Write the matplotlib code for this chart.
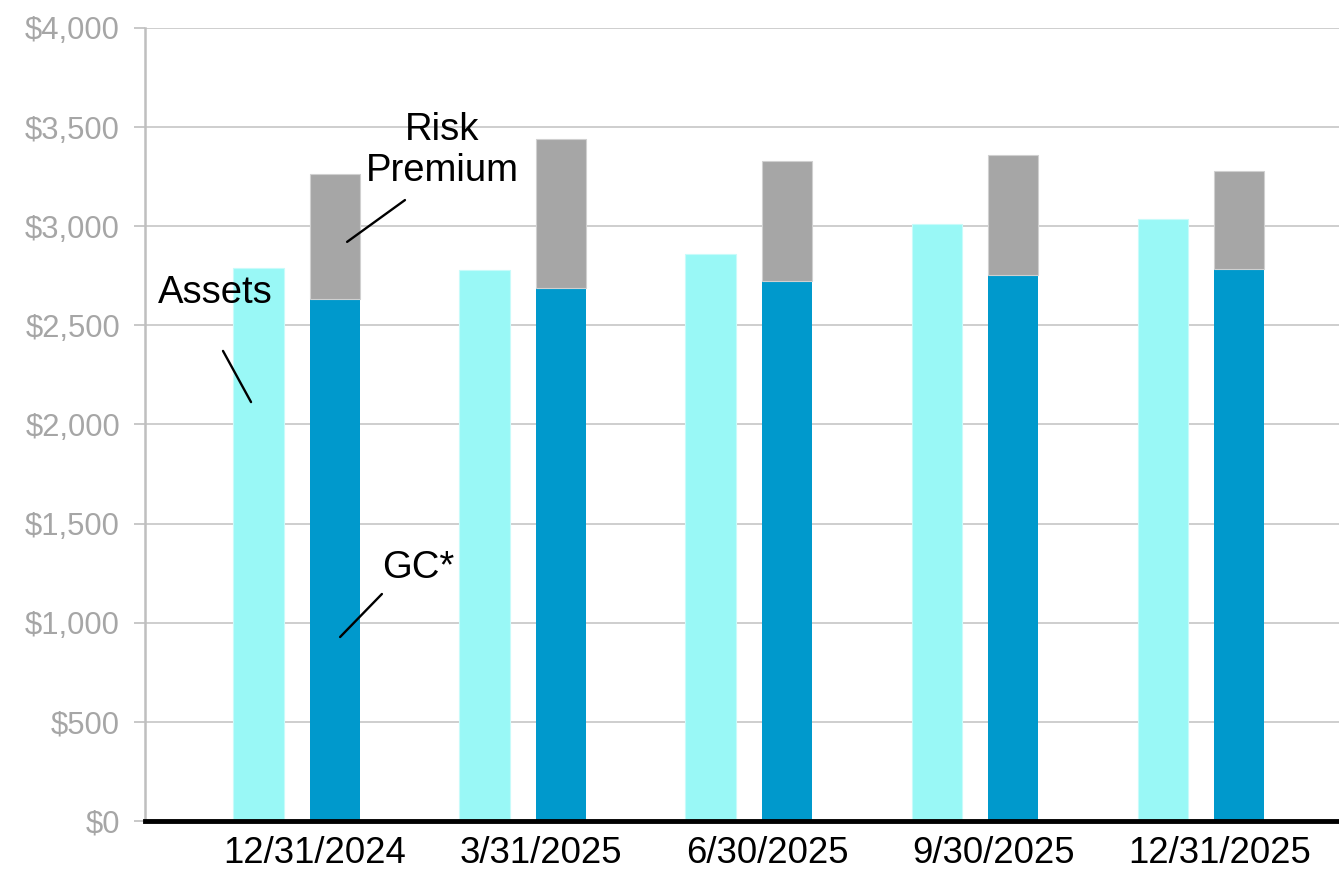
import matplotlib
matplotlib.use("Agg")
import matplotlib.pyplot as plt
import numpy as np

# 数据（从图上读取，单位：百万美元）
categories = ["12/31/2024", "3/31/2025", "6/30/2025", "9/30/2025", "12/31/2025"]
assets = [2790, 2780, 2860, 3010, 3035]
gc = [2633, 2690, 2722, 2755, 2785]
risk_premium = [630, 750, 605, 603, 495]

plt.rcParams["font.family"] = ["Liberation Sans", "DejaVu Sans"]

fig = plt.figure(figsize=(13.39, 8.71), dpi=100)
ax = fig.add_axes([0.1083, 0.0574, 0.8917, 0.9105])

x = np.arange(len(categories))
w = 0.222
ax.bar(x - 0.25, assets, width=w, color="#99f8f6", edgecolor="#c8fbfa", linewidth=0.8, zorder=3)
ax.bar(x + 0.088, gc, width=w, color="#0099cc", zorder=3)
ax.bar(x + 0.088, risk_premium, bottom=gc, width=w, color="#a6a6a6",
       edgecolor="#d0d0d0", linewidth=0.8, zorder=3)

ax.set_xlim(-0.752, 4.53)
ax.set_ylim(0, 4000)
ax.set_yticks(range(0, 4001, 500))
ax.set_yticklabels([f"${v:,}" for v in range(0, 4001, 500)], color="#a6a6a6", fontsize=22.3)
ax.set_xticks(x)
ax.set_xticklabels(categories, fontsize=26.3)
ax.tick_params(axis="x", length=0, pad=11)
ax.tick_params(axis="y", length=8, width=1.2, color="#bfbfbf", pad=10)

ax.yaxis.grid(True, color="#c6c6c6", linewidth=1.2, zorder=0)
ax.set_axisbelow(True)
for s in ("top", "right"):
    ax.spines[s].set_visible(False)
ax.spines["left"].set_color("#bfbfbf")
ax.spines["left"].set_linewidth(1.8)
ax.spines["bottom"].set_color("black")
ax.spines["bottom"].set_linewidth(3.5)
ax.spines["bottom"].set_zorder(5)

# 标注文字
lbl = dict(fontsize=27.5, ha="center", va="center", zorder=6)
ax.text(0.562, 3382, "Risk\nPremium", linespacing=1.18, **lbl)
ax.text(-0.442, 2663, "Assets", **lbl)
ax.text(0.456, 1276, "GC*", **lbl)

# 引线
line = dict(arrowstyle="-", color="black", lw=1.7, shrinkA=0, shrinkB=0)
ax.annotate("", xy=(0.142, 2921), xytext=(0.398, 3132), arrowprops=line, zorder=6)
ax.annotate("", xy=(-0.283, 2113), xytext=(-0.407, 2371), arrowprops=line, zorder=6)
ax.annotate("", xy=(0.111, 928), xytext=(0.296, 1145), arrowprops=line, zorder=6)

fig.savefig("out.png", dpi=100)
